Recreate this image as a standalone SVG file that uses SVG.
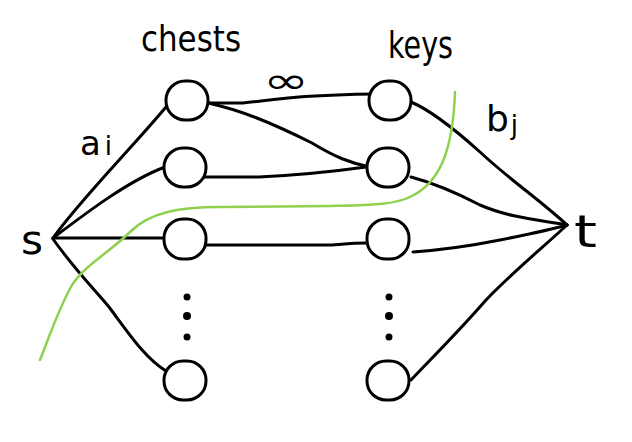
<svg xmlns="http://www.w3.org/2000/svg" width="632" height="442" viewBox="0 0 632 442">
<style>
.e{fill:none;stroke:#000;stroke-width:3;stroke-linecap:round;stroke-linejoin:round}
.n{fill:#fff;stroke:#000;stroke-width:3}
.cut{fill:none;stroke:#8fd14f;stroke-width:2.5;stroke-linecap:round}
text{font-family:"DejaVu Sans","Liberation Sans",sans-serif;fill:#000}
.d{fill:#000}
</style>
<rect width="632" height="442" fill="#fff"/>
<g id="connectors">
<path class="e" d="M53,238 C80,200 130,150 166,107"/>
<path class="e" d="M53,238 C90,210 130,180 165,167"/>
<path class="e" d="M53,238 L162,238"/>
<path class="e" d="M53,239 C75,270 95,290 109,307 C130,335 145,358 166,371"/>
<path class="e" d="M208,103 L243,103 C280,99 300,95 376,94"/>
<path class="e" d="M208,103 C240,110 270,122 312,143 C335,157 350,163 370,167"/>
<path class="e" d="M202,177 L259,177 C300,175 330,172 366,167"/>
<path class="e" d="M206,245 L332,245 C345,244 355,243 366,243"/>
<path class="e" d="M411,102 C430,110 450,125 480,152 C510,180 540,200 567,225"/>
<path class="e" d="M411,177 C430,182 455,192 480,205 C510,218 540,220 567,225"/>
<path class="e" d="M413,252 C440,250 470,246 500,240 C530,234 550,230 567,225"/>
<path class="e" d="M411,380 C430,360 460,330 486,300 C515,270 540,250 567,225"/>
</g>
<g id="chest1"><rect class="n" x="166" y="81" width="42" height="39" rx="19"/></g>
<g id="chest2"><rect class="n" x="164" y="148" width="42" height="39" rx="19"/></g>
<g id="chest3"><rect class="n" x="164" y="219" width="42" height="40" rx="19"/></g>
<g id="chest4"><rect class="n" x="164" y="361" width="42" height="39" rx="19"/></g>
<g id="key1"><rect class="n" x="369" y="81" width="42" height="39" rx="19"/></g>
<g id="key2"><rect class="n" x="367" y="148" width="42" height="39" rx="19"/></g>
<g id="key3"><rect class="n" x="367" y="219" width="42" height="40" rx="19"/></g>
<g id="key4"><rect class="n" x="367" y="361" width="42" height="39" rx="19"/></g>
<g id="chest-dots"><circle class="d" cx="187" cy="297" r="3.5"/><circle class="d" cx="187" cy="316" r="4"/><circle class="d" cx="187" cy="337" r="3.5"/></g>
<g id="key-dots"><circle class="d" cx="389" cy="297" r="3.5"/><circle class="d" cx="389" cy="316" r="4"/><circle class="d" cx="389" cy="337" r="3.5"/></g>
<g id="s"><text x="21" y="254" font-size="40" textLength="22" lengthAdjust="spacingAndGlyphs">s</text></g>
<g id="t"><text x="574" y="247" font-size="44" textLength="23" lengthAdjust="spacingAndGlyphs">t</text></g>
<g id="labels">
<text x="141" y="51" font-size="36" textLength="100" lengthAdjust="spacingAndGlyphs">chests</text>
<text x="388" y="58" font-size="38" textLength="65" lengthAdjust="spacingAndGlyphs">keys</text>
<text x="263" y="93" font-size="36" textLength="46" lengthAdjust="spacingAndGlyphs">∞</text>
<text x="80" y="155" font-size="34">a<tspan font-size="26" dx="4" dy="0">i</tspan></text>
<text x="486" y="131" font-size="36">b<tspan font-size="26" dx="2" dy="3">j</tspan></text>
</g>
<path class="cut" d="M455,92 C453,150 440,182 412,196 C395,205 370,205 330,206 L220,207 C180,207 150,212 130,232 C110,252 85,265 72,285 C58,310 50,335 40,360"/>
</svg>
